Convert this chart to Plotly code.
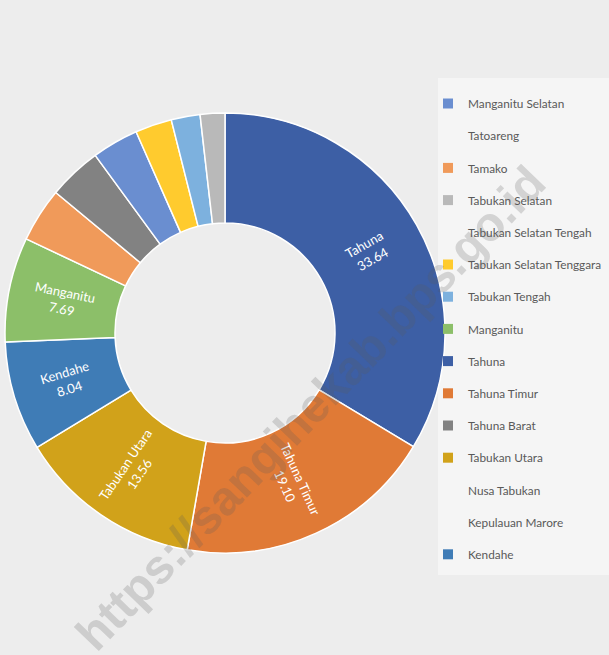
import math
import plotly.graph_objects as go

# Legend order (as in the reference)
districts = ["Manganitu Selatan", "Tatoareng", "Tamako", "Tabukan Selatan",
             "Tabukan Selatan Tengah", "Tabukan Selatan Tenggara", "Tabukan Tengah",
             "Manganitu", "Tahuna", "Tahuna Timur", "Tahuna Barat", "Tabukan Utara",
             "Nusa Tabukan", "Kepulauan Marore", "Kendahe"]
values = [3.42, 0, 3.99, 1.81, 0, 2.69, 2.12, 7.69, 33.64, 19.10, 3.93, 13.56, 0, 0, 8.04]
colors = ["#6a8ed0", "rgba(0,0,0,0)", "#f09a5a", "#b9b9b9", "rgba(0,0,0,0)", "#ffcb2e",
          "#7db1de", "#8cbf69", "#3d5fa5", "#e07a36", "#828282", "#d1a21a",
          "rgba(0,0,0,0)", "rgba(0,0,0,0)", "#3f7cb6"]
label_min = 5.0

pie_labels = [d for d, v in zip(districts, values) if v > 0]
pie_values = [v for v in values if v > 0]
pie_colors = [c for c, v in zip(colors, values) if v > 0]

W, H = 609, 655
cx, cy, r = 225, 333, 220
hole = 0.5

fig = go.Figure()
fig.add_trace(go.Pie(
    labels=pie_labels, values=pie_values,
    textinfo="none", hole=hole, sort=True, direction="clockwise", rotation=0,
    marker=dict(colors=pie_colors, line=dict(color="white", width=1.5)),
    showlegend=False, hoverinfo="label+value",
    domain=dict(x=[(cx - r) / W, (cx + r) / W], y=[(H - cy - r) / H, (H - cy + r) / H]),
))

# radial data labels for the larger slices, placed from the slice angles
annotations = []
order = sorted(zip(pie_labels, pie_values), key=lambda t: -t[1])
total = sum(pie_values)
cum = 0.0
rm = r * (1 + hole) / 2
for lab, v in order:
    mid = (cum + v / 2) / total * 360.0
    cum += v
    if v < label_min:
        continue
    th = math.radians(mid)
    px = cx + rm * math.sin(th)
    py = cy - rm * math.cos(th)
    ang = mid - 90.0
    if ang > 90:
        ang -= 180
    if ang < -90:
        ang += 180
    annotations.append(dict(
        text=f"{lab}<br>{v:.2f}", xref="paper", yref="paper", x=px / W, y=1 - py / H,
        xanchor="center", yanchor="middle",
        showarrow=False, textangle=ang, align="center",
        font=dict(family="Lato", size=13, color="white")))

# legend entries
for d, c in zip(districts, colors):
    fig.add_trace(go.Scatter(
        x=[None], y=[None], mode="markers", name=d, legendgroup=d,
        marker=dict(symbol="square", size=10, color=c, line=dict(width=0)),
        hoverinfo="skip",
    ))

annotations.append(dict(text="<b>https://sangihekab.bps.go.id</b>", xref="paper", yref="paper",
                        x=310 / W, y=1 - 408 / H, xanchor="center", yanchor="middle",
                        showarrow=False, textangle=-46,
                        font=dict(family="Liberation Sans", size=48, color="rgba(90,90,90,0.22)")))

fig.update_layout(
    width=W, height=H,
    margin=dict(l=0, r=0, t=0, b=0),
    paper_bgcolor="#ededed", plot_bgcolor="rgba(0,0,0,0)",
    xaxis=dict(visible=False), yaxis=dict(visible=False),
    legend=dict(x=428 / W, y=1 - 89 / H, xanchor="left", yanchor="top",
                bgcolor="rgba(0,0,0,0)", font=dict(family="Lato", size=11.8, color="#595959"),
                tracegroupgap=13.2, itemclick=False),
    shapes=[dict(type="rect", xref="paper", yref="paper",
                 x0=438 / W, x1=1, y0=1 - 575 / H, y1=1 - 78 / H,
                 fillcolor="rgba(255,255,255,0.45)", line=dict(width=0), layer="below")],
    annotations=annotations,
)

fig.write_html("out.html", config={"displayModeBar": False},
               post_script="document.body.style.margin='0';document.body.style.padding='0';"
                           "document.body.style.overflow='hidden';")
